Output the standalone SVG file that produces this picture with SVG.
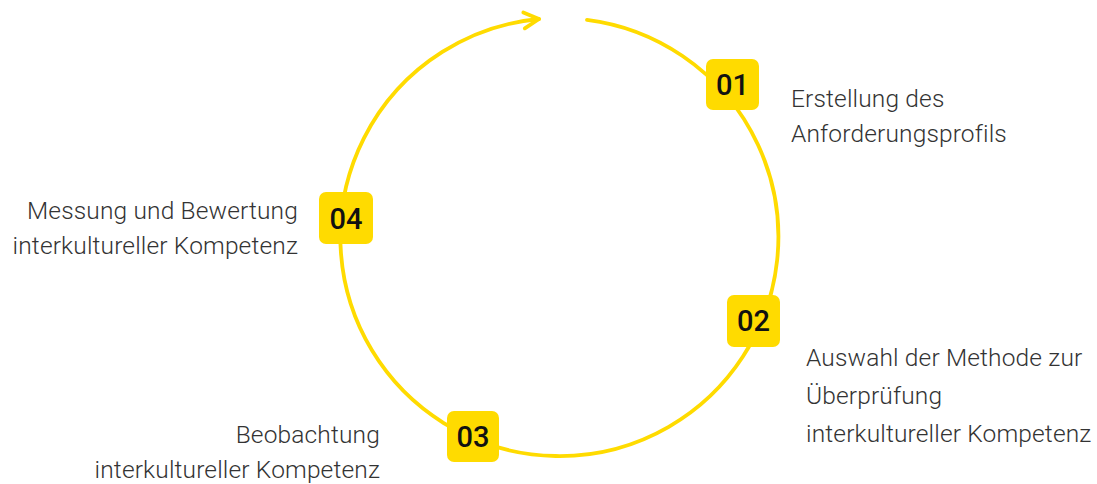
<svg xmlns="http://www.w3.org/2000/svg" width="1097" height="484" viewBox="0 0 1097 484">
<style>
.lbl{font-family:Roboto,"Liberation Sans",sans-serif;font-weight:300;font-size:24.5px;letter-spacing:0.15px;fill:#333}
.num{font-family:Roboto,"Liberation Sans",sans-serif;font-weight:500;font-size:29px;fill:#111;text-anchor:middle}
.badge{fill:#FFDB00}
.ring{fill:none;stroke:#FFDB00;stroke-width:3.8;stroke-linecap:round;stroke-linejoin:round}
</style>
<defs>
<marker id="arr" markerUnits="userSpaceOnUse" markerWidth="30" markerHeight="30" refX="0" refY="0" viewBox="-20 -15 30 30" orient="auto" overflow="visible">
<path d="M -15 -8 L 0 0 L -15 8" fill="none" stroke="#FFDB00" stroke-width="3.8" stroke-linecap="round" stroke-linejoin="round"/>
</marker>
</defs>
<rect width="1097" height="484" fill="#fff"/>
<g id="connectors">
<path class="ring" d="M 587 19.8 A 219 219 0 1 1 539 19" marker-end="url(#arr)"/>
</g>
<g id="n01">
<rect class="badge" x="706" y="59" width="53" height="51" rx="7"/>
<text class="num" x="732.5" y="95">01</text>
<text class="lbl" x="791" y="107">Erstellung des</text>
<text class="lbl" x="791" y="142">Anforderungsprofils</text>
</g>
<g id="n02">
<rect class="badge" x="727" y="295" width="53" height="52" rx="7"/>
<text class="num" x="753.5" y="331">02</text>
<text class="lbl" x="806" y="366">Auswahl der Methode zur</text>
<text class="lbl" x="806" y="404">Überprüfung</text>
<text class="lbl" x="806" y="442">interkultureller Kompetenz</text>
</g>
<g id="n03">
<rect class="badge" x="447" y="411" width="52" height="51" rx="7"/>
<text class="num" x="473" y="447">03</text>
<text class="lbl" x="380" y="443" text-anchor="end">Beobachtung</text>
<text class="lbl" x="380" y="478" text-anchor="end">interkultureller Kompetenz</text>
</g>
<g id="n04">
<rect class="badge" x="319" y="192" width="54" height="52" rx="7"/>
<text class="num" x="346" y="229">04</text>
<text class="lbl" x="298" y="219" text-anchor="end">Messung und Bewertung</text>
<text class="lbl" x="298" y="254" text-anchor="end">interkultureller Kompetenz</text>
</g>
</svg>
